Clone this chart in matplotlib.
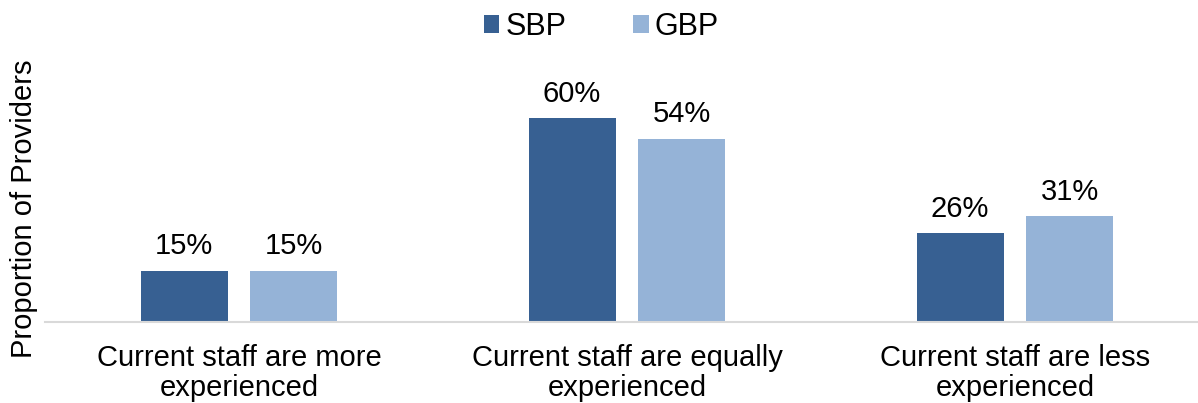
import numpy as np
import matplotlib.pyplot as plt
from matplotlib.patches import Patch

plt.rcParams['font.family'] = ['Liberation Sans', 'DejaVu Sans']

# 資料
categories = ['Current staff are more\nexperienced',
              'Current staff are equally\nexperienced',
              'Current staff are less\nexperienced']
series_names = ['SBP', 'GBP']
sbp = [15, 60, 26]
gbp = [15, 54, 31]
colors = ['#376092', '#95B3D7']

fig = plt.figure(figsize=(11.98, 4.03), dpi=100)
# 軸的位置（右側稍微超出圖框）
ax = fig.add_axes([45 / 1198, 1 - 321.5 / 403, 1164 / 1198, 271 / 403])

x = np.arange(len(categories))
width = 0.224
offset = 0.1415

for vals, color, off in zip([sbp, gbp], colors, [-offset, offset]):
    bars = ax.bar(x + off, vals, width, color=color)
    for b, v in zip(bars, vals):
        ax.annotate(f'{v}%', (b.get_x() + b.get_width() / 2, v),
                    xytext=(0, 12), textcoords='offset points',
                    ha='center', va='baseline', fontsize=21, color='#000000')

ax.set_xlim(-0.5, 2.5)
ax.set_ylim(0, 80)
ax.set_xticks(x)
ax.set_xticklabels(categories, fontsize=21, linespacing=1.1)
ax.tick_params(axis='x', length=0, pad=16)
ax.set_yticks([])

for side in ['top', 'right', 'left']:
    ax.spines[side].set_visible(False)
ax.spines['bottom'].set_color('#D9D9D9')
ax.spines['bottom'].set_linewidth(1.5)

fig.text(24 / 1198, 1 - 208.5 / 403, 'Proportion of Providers',
         rotation=90, ha='center', va='center', fontsize=21)

handles = [Patch(facecolor=c) for c in colors]
fig.legend(handles, series_names, loc='center', ncol=2,
           bbox_to_anchor=(0.502, 1 - 27 / 403), frameon=False,
           fontsize=22, handlelength=0.5, handleheight=0.5,
           handletextpad=0.2, columnspacing=2.2)

fig.savefig('out.png', dpi=100)
